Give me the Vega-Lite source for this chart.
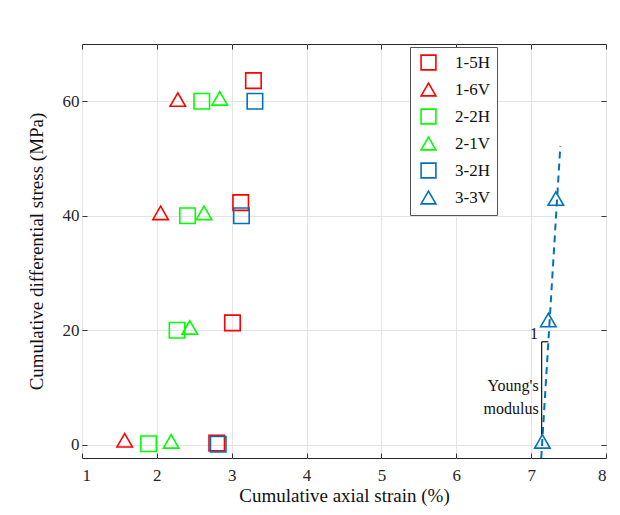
{
  "$schema": "https://vega.github.io/schema/vega-lite/v6.json",
  "width": 524,
  "height": 414,
  "autosize": {"type": "none"},
  "padding": {"left": 82, "top": 44, "right": 14, "bottom": 57},
  "background": "white",
  "config": {
    "font": "Times New Roman, Liberation Serif, serif",
    "view": {"stroke": "#262626", "strokeWidth": 1},
    "axis": {
      "labelFont": "Times New Roman, Liberation Serif, serif",
      "titleFont": "Times New Roman, Liberation Serif, serif",
      "labelFontSize": 17,
      "titleFontSize": 19,
      "titleFontWeight": "normal",
      "labelColor": "#262626",
      "titleColor": "#111",
      "gridColor": "#e3e3e3",
      "gridWidth": 1,
      "domain": false,
      "tickColor": "#333",
      "tickSize": -5
    }
  },
  "resolve": {"axis": {"x": "independent", "y": "independent"}},
  "datasets": {
    "pts": [
      {"series": "1-5H", "strain": 3.29, "stress": 63.6},
      {"series": "1-5H", "strain": 3.12, "stress": 42.3},
      {"series": "1-5H", "strain": 3.01, "stress": 21.3},
      {"series": "1-5H", "strain": 2.80, "stress": 0.3},
      {"series": "1-6V", "strain": 2.28, "stress": 60.3},
      {"series": "1-6V", "strain": 2.05, "stress": 40.5},
      {"series": "1-6V", "strain": 1.57, "stress": 0.8},
      {"series": "2-2H", "strain": 2.6, "stress": 60.0},
      {"series": "2-2H", "strain": 2.41, "stress": 40.0},
      {"series": "2-2H", "strain": 2.27, "stress": 20.0},
      {"series": "2-2H", "strain": 1.89, "stress": 0.2},
      {"series": "2-1V", "strain": 2.84, "stress": 60.5},
      {"series": "2-1V", "strain": 2.63, "stress": 40.5},
      {"series": "2-1V", "strain": 2.44, "stress": 20.5},
      {"series": "2-1V", "strain": 2.19, "stress": 0.6},
      {"series": "3-2H", "strain": 3.31, "stress": 60.0},
      {"series": "3-2H", "strain": 3.13, "stress": 40.0},
      {"series": "3-2H", "strain": 2.82, "stress": 0.1},
      {"series": "3-3V", "strain": 7.33, "stress": 43.0},
      {"series": "3-3V", "strain": 7.23, "stress": 21.8},
      {"series": "3-3V", "strain": 7.15, "stress": 0.6}
    ],
    "fit": [
      {"strain": 7.135, "stress": -2.3},
      {"strain": 7.39, "stress": 52.2}
    ],
    "bracket": [
      {"x1": 7.14, "x2": 7.14, "y1": 1.75, "y2": 18.0},
      {"x1": 7.14, "x2": 7.23, "y1": 18.0, "y2": 18.0}
    ],
    "notes": [
      {"x": 7.09, "y": 19.3, "t": "1"},
      {"x": 7.10, "y": 10.3, "t": "Young's"},
      {"x": 7.10, "y": 6.3, "t": "modulus"}
    ]
  },
  "layer": [
    {
      "data": {"name": "fit"},
      "mark": {"type": "line", "color": "#0072BD", "strokeWidth": 2, "strokeDash": [7, 5], "clip": true},
      "encoding": {
        "x": {"field": "strain", "type": "quantitative", "scale": {"domain": [1, 8], "nice": false},
              "axis": {"values": [1,2,3,4,5,6,7,8], "format": "d", "labelPadding": 14, "title": "Cumulative axial strain (%)", "titlePadding": 3}},
        "y": {"field": "stress", "type": "quantitative", "scale": {"domain": [-2.3, 70], "nice": false},
              "axis": {"values": [0,20,40,60], "labelPadding": 8, "title": "Cumulative differential stress (MPa)", "titlePadding": 16}}
      }
    },
    {
      "data": {"name": "fit"},
      "mark": {"type": "line", "opacity": 0},
      "encoding": {
        "x": {"field": "strain", "type": "quantitative",
              "axis": {"orient": "top", "values": [1,2,3,4,5,6,7,8], "labels": false, "grid": false, "title": null}},
        "y": {"field": "stress", "type": "quantitative",
              "axis": {"orient": "right", "values": [0,20,40,60], "labels": false, "grid": false, "title": null}}
      }
    },
    {
      "data": {"name": "bracket"},
      "mark": {"type": "rule", "color": "#222", "strokeWidth": 1.3},
      "encoding": {
        "x": {"field": "x1", "type": "quantitative", "axis": null},
        "x2": {"field": "x2"},
        "y": {"field": "y1", "type": "quantitative", "axis": null},
        "y2": {"field": "y2"}
      }
    },
    {
      "data": {"name": "notes"},
      "mark": {"type": "text", "align": "right", "baseline": "middle", "font": "Times New Roman, Liberation Serif, serif", "fontSize": 16, "color": "#111"},
      "encoding": {
        "x": {"field": "x", "type": "quantitative", "axis": null},
        "y": {"field": "y", "type": "quantitative", "axis": null},
        "text": {"field": "t"}
      }
    },
    {
      "data": {"name": "pts"},
      "mark": {"type": "point", "filled": false, "strokeWidth": 1.6, "size": 240, "opacity": 1},
      "encoding": {
        "x": {"field": "strain", "type": "quantitative", "axis": null},
        "y": {"field": "stress", "type": "quantitative", "axis": null},
        "color": {
          "field": "series", "type": "nominal",
          "scale": {"domain": ["1-5H", "1-6V", "2-2H", "2-1V", "3-2H", "3-3V"],
                    "range": ["#FF0000", "#FF0000", "#00FF00", "#00FF00", "#0072BD", "#0072BD"]},
          "legend": {
            "title": null, "orient": "none", "legendX": 328, "legendY": 3,
            "strokeColor": "#555", "fillColor": "white", "padding": 7,
            "labelFont": "Times New Roman, Liberation Serif, serif", "labelFontSize": 17, "labelColor": "#111",
            "symbolSize": 220, "symbolStrokeWidth": 1.6, "rowPadding": 5, "labelOffset": 18,
            "symbolOffset": 3
          }
        },
        "shape": {
          "field": "series", "type": "nominal",
          "scale": {"domain": ["1-5H", "1-6V", "2-2H", "2-1V", "3-2H", "3-3V"],
                    "range": ["square", "triangle-up", "square", "triangle-up", "square", "triangle-up"]}
        }
      }
    }
  ]
}
